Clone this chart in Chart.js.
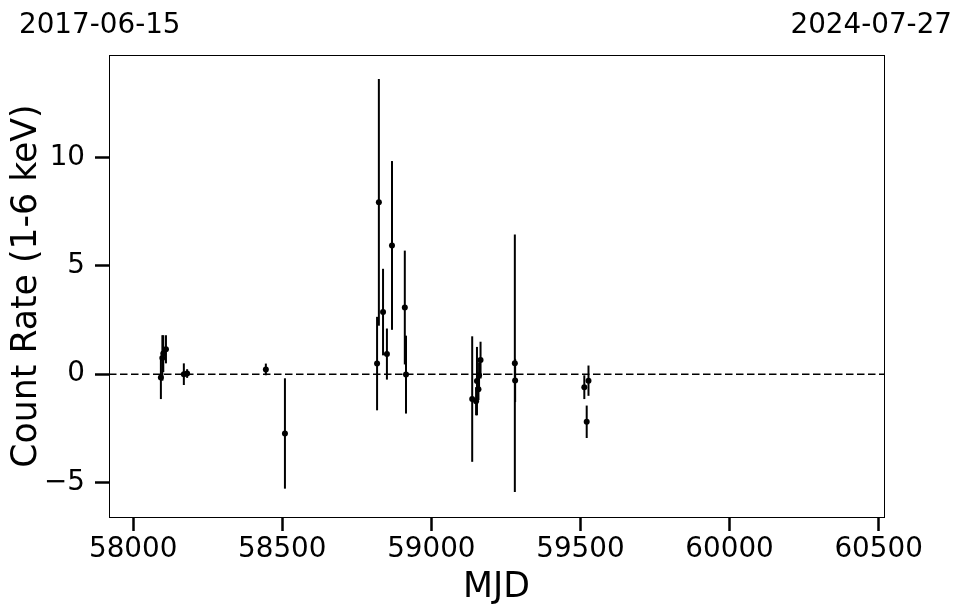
<!DOCTYPE html>
<html>
<head>
<meta charset="utf-8">
<script src="https://cdn.jsdelivr.net/npm/chart.js@4.4.1/dist/chart.umd.min.js"></script>
<style>
  html, body { margin: 0; padding: 0; background: #fff; }
  #wrap { width: 962px; height: 613px; }
</style>
</head>
<body>
<div id="wrap"><canvas id="lightCurve" width="962" height="613"></canvas></div>
<script>
// light curve values
var mjd     = [58093, 58098, 58101, 58110, 58170, 58181, 58445, 58509,
               58818, 58824, 58838, 58851, 58868, 58911, 58915,
               59137, 59150, 59153, 59158, 59160, 59165, 59280, 59281,
               59513, 59521, 59527];
var rate    = [-0.15, 0.75, 0.95, 1.15, 0.0, 0.03, 0.22, -2.74,
               0.49, 7.94, 2.87, 0.93, 5.95, 3.08, -0.02,
               -1.15, -1.25, -0.32, -0.7, -0.05, 0.65, 0.5, -0.29,
               -0.6, -2.2, -0.3];
var rateErr = [1.0, 1.05, 0.85, 0.65, 0.5, 0.2, 0.27, 2.55,
               2.16, 5.7, 2.0, 1.18, 3.9, 2.63, 1.8,
               2.9, 0.65, 1.58, 0.5, 0.6, 0.85, 5.95, 1.0,
               0.55, 0.75, 0.7];

var xTicks = [58000, 58500, 59000, 59500, 60000, 60500];
var yTicks = [-5, 0, 5, 10];
var xRange = [57919, 60518];
var yRange = [-6.6, 14.75];
var dateLabels = ['2017-06-15', '2024-07-27'];

var FONT = "'DejaVu Sans', sans-serif";

var points = mjd.map(function(m, i) { return { x: m, y: rate[i] }; });

// vertical error bars, drawn through the chart scales
var errorBars = {
  id: 'errorBars',
  beforeDatasetsDraw: function(chart) {
    var ctx = chart.ctx, xs = chart.scales.x, ys = chart.scales.y;
    var area = chart.chartArea;
    ctx.save();
    ctx.beginPath();
    ctx.rect(area.left, area.top, area.right - area.left, area.bottom - area.top);
    ctx.clip();
    ctx.strokeStyle = '#000';
    ctx.lineWidth = 2;
    for (var i = 0; i < mjd.length; i++) {
      var px = xs.getPixelForValue(mjd[i]);
      ctx.beginPath();
      ctx.moveTo(px, ys.getPixelForValue(rate[i] - rateErr[i]));
      ctx.lineTo(px, ys.getPixelForValue(rate[i] + rateErr[i]));
      ctx.stroke();
    }
    ctx.restore();
  }
};

// box around the plot and the two date labels on top
var frameAndDates = {
  id: 'frameAndDates',
  afterDraw: function(chart) {
    var ctx = chart.ctx, a = chart.chartArea;
    ctx.save();
    ctx.strokeStyle = '#000';
    ctx.lineWidth = 1;
    ctx.strokeRect(Math.round(a.left) + 0.5, Math.round(a.top) + 0.5,
                   Math.round(a.right - a.left), Math.round(a.bottom - a.top));
    ctx.fillStyle = '#000';
    ctx.font = '27.8px ' + FONT;
    ctx.textBaseline = 'alphabetic';
    ctx.textAlign = 'left';
    ctx.fillText(dateLabels[0], 19, 33);
    ctx.textAlign = 'right';
    ctx.fillText(dateLabels[1], 952, 33);
    ctx.restore();
  }
};

function minusFmt(v) {
  return v < 0 ? '\u2212' + Math.abs(v) : String(v);
}

var ctx = document.getElementById('lightCurve').getContext('2d');
var lightCurve = new Chart(ctx, {
  type: 'scatter',
  data: {
    datasets: [{
      label: 'rate',
      data: points,
      showLine: false,
      pointRadius: 3,
      pointHoverRadius: 3,
      backgroundColor: '#000',
      borderWidth: 0
    }, {
      label: 'zero',
      type: 'line',
      data: [{ x: xRange[0], y: 0 }, { x: xRange[1], y: 0 }],
      borderColor: '#000',
      borderWidth: 1.6,
      borderDash: [7.5, 3.5],
      pointRadius: 0,
      fill: false
    }]
  },
  options: {
    responsive: false,
    animation: false,
    devicePixelRatio: 1,
    layout: { padding: { top: 55, right: 78, left: 0, bottom: 0 } },
    plugins: {
      legend: { display: false },
      tooltip: { enabled: false }
    },
    scales: {
      x: {
        type: 'linear',
        position: 'bottom',
        min: xRange[0],
        max: xRange[1],
        afterBuildTicks: function(s) { s.ticks = xTicks.map(function(v) { return { value: v }; }); },
        afterFit: function(s) { s.height = 96; },
        ticks: {
          color: '#000',
          font: { family: FONT, size: 27.8 },
          padding: 2,
          maxRotation: 0,
          autoSkip: false,
          callback: function(v) { return String(v); }
        },
        grid: { display: true, drawOnChartArea: false, drawTicks: true, tickLength: 14, tickWidth: 2.5, tickColor: '#000' },
        border: { display: true, color: '#000', width: 1 },
        title: { display: true, text: 'MJD', color: '#000', font: { family: FONT, size: 34.7 }, padding: { top: 0, bottom: 4 } }
      },
      y: {
        type: 'linear',
        min: yRange[0],
        max: yRange[1],
        afterBuildTicks: function(s) { s.ticks = yTicks.map(function(v) { return { value: v }; }); },
        afterFit: function(s) { s.width = 109; },
        ticks: {
          color: '#000',
          font: { family: FONT, size: 27.8 },
          padding: 10,
          autoSkip: false,
          callback: function(v) { return minusFmt(v); }
        },
        grid: { display: true, drawOnChartArea: false, drawTicks: true, tickLength: 14, tickWidth: 2.5, tickColor: '#000' },
        border: { display: true, color: '#000', width: 1 },
        title: { display: true, text: 'Count Rate (1-6 keV)', color: '#000', font: { family: FONT, size: 34.7 }, padding: { top: 6, bottom: 0 } }
      }
    }
  },
  plugins: [errorBars, frameAndDates]
});
</script>
</body>
</html>
